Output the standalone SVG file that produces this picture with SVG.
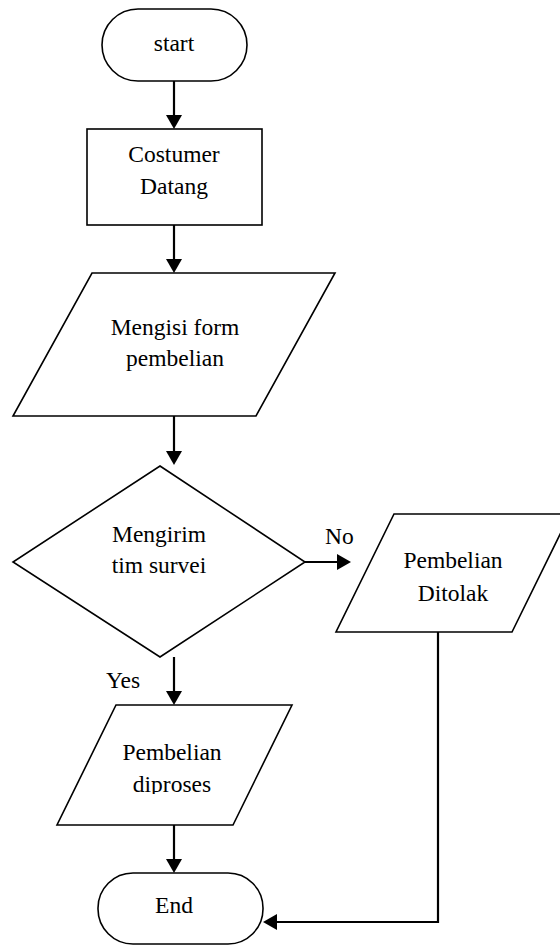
<svg xmlns="http://www.w3.org/2000/svg" width="560" height="945" viewBox="0 0 560 945">
  <style>
    .shape { fill: #ffffff; stroke: #000000; stroke-width: 1.6; stroke-linejoin: miter; }
    .link { fill: none; stroke: #000000; stroke-width: 2.2; }
    .label { font-family: 'Liberation Serif', 'DejaVu Serif', serif; font-size: 23.5px; fill: #000000; text-anchor: middle; }
    .tag { font-family: 'Liberation Serif', 'DejaVu Serif', serif; font-size: 23.5px; fill: #000000; }
  </style>
  <defs>
    <marker id="arrow" markerUnits="userSpaceOnUse" markerWidth="16" markerHeight="18" refX="2" refY="8" orient="auto">
      <path d="M0,0 L14,8 L0,16 Z" fill="#000000"/>
    </marker>
    <clipPath id="clip-diproses">
      <rect x="0" y="700" width="560" height="94"/>
    </clipPath>
  </defs>
  <rect width="560" height="945" fill="#ffffff"/>

  <!-- connectors -->
  <g id="connectors">
    <line class="link" x1="174" y1="81" x2="174" y2="117" marker-end="url(#arrow)"/>
    <line class="link" x1="174" y1="225" x2="174" y2="261" marker-end="url(#arrow)"/>
    <line class="link" x1="174" y1="416" x2="174" y2="453" marker-end="url(#arrow)"/>
    <line class="link" x1="305" y1="562" x2="339" y2="562" marker-end="url(#arrow)"/>
    <line class="link" x1="174" y1="657" x2="174" y2="693" marker-end="url(#arrow)"/>
    <line class="link" x1="174" y1="825" x2="174" y2="861" marker-end="url(#arrow)"/>
    <polyline class="link" points="438,632 438,922 275,922" marker-end="url(#arrow)"/>
    <text class="tag" x="325" y="544">No</text>
    <text class="tag" x="106" y="688">Yes</text>
  </g>

  <g id="start">
    <rect class="shape" x="102" y="9" width="145" height="72" rx="36" ry="36"/>
    <text class="label" x="174" y="51">start</text>
  </g>

  <g id="costumer-datang">
    <rect class="shape" x="87" y="129" width="175" height="96"/>
    <text class="label" x="174" y="162">Costumer</text>
    <text class="label" x="174" y="194">Datang</text>
  </g>

  <g id="mengisi-form">
    <polygon class="shape" points="92,273 335,273 256,416 13,416"/>
    <text class="label" x="175" y="335">Mengisi form</text>
    <text class="label" x="175" y="366">pembelian</text>
  </g>

  <g id="mengirim-tim-survei">
    <polygon class="shape" points="160,466 305,562 160,657 13,562"/>
    <text class="label" x="159" y="542">Mengirim</text>
    <text class="label" x="159" y="573">tim survei</text>
  </g>

  <g id="pembelian-ditolak">
    <polygon class="shape" points="394,514 570,514 512,632 336,632"/>
    <text class="label" x="453" y="568">Pembelian</text>
    <text class="label" x="453" y="601">Ditolak</text>
  </g>

  <g id="pembelian-diproses">
    <polygon class="shape" points="116,705 292,705 233,825 57,825"/>
    <g clip-path="url(#clip-diproses)">
      <text class="label" x="172" y="760">Pembelian</text>
      <text class="label" x="172" y="792">diproses</text>
    </g>
  </g>

  <g id="end">
    <rect class="shape" x="98" y="873" width="165" height="71" rx="35" ry="35"/>
    <text class="label" x="174" y="913">End</text>
  </g>
</svg>
